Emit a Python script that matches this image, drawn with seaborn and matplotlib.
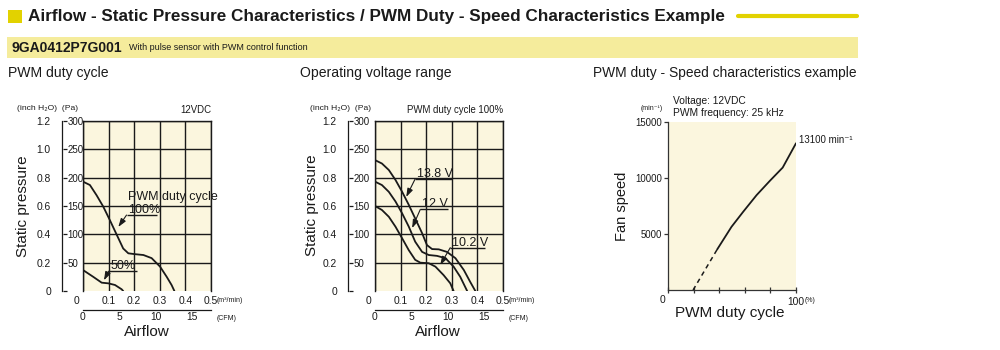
import numpy as np
import pandas as pd
import matplotlib
matplotlib.use("Agg")
import matplotlib.pyplot as plt
from matplotlib.patches import Rectangle
from matplotlib.lines import Line2D
import seaborn as sns

# ---------------- data ----------------
# Chart 1: PWM duty cycle (12 VDC) airflow [m3/min] vs static pressure [Pa]
duty100_flow = [0, 0.027, 0.053, 0.079, 0.105, 0.132, 0.157, 0.177, 0.203, 0.236, 0.268, 0.301, 0.327, 0.346, 0.357]
duty100_pres = [193, 187, 169, 149, 125, 99, 75, 66.5, 65, 63.5, 58, 43, 25, 10.6, 0]
duty50_flow = [0, 0.04, 0.073, 0.099, 0.125, 0.151, 0.157]
duty50_pres = [37, 25, 14.7, 13.5, 10.6, 3, 0]

# Chart 2: Operating voltage range (PWM duty cycle 100%)
v138_flow = [0, 0.027, 0.054, 0.08, 0.106, 0.132, 0.157, 0.184, 0.203, 0.223, 0.249, 0.281, 0.314, 0.347, 0.372, 0.392]
v138_pres = [231, 225, 213.5, 196, 175, 152, 128, 102, 81, 74, 73.5, 69, 58, 37, 16, 0]
v12_flow = [0, 0.027, 0.054, 0.08, 0.106, 0.132, 0.157, 0.184, 0.21, 0.242, 0.275, 0.307, 0.333, 0.36]
v12_pres = [193, 187, 175, 158, 137, 113.5, 87, 69, 63.5, 62, 58, 43, 25, 0]
v102_flow = [0, 0.027, 0.054, 0.08, 0.106, 0.132, 0.157, 0.177, 0.21, 0.236, 0.268, 0.294, 0.307]
v102_pres = [150, 143, 131, 113.5, 93, 72, 55, 50, 49, 43, 28, 13.6, 0]

# Chart 3: PWM duty - speed
speed_duty_dashed = [19.6, 38.4]
speed_rpm_dashed = [0, 3620]
speed_duty_solid = [38.4, 49.6, 58.7, 69.2, 79.6, 89.6, 100]
speed_rpm_solid = [3620, 5640, 6980, 8470, 9750, 10930, 13100]

pa_ticks = [0, 50, 100, 150, 200, 250, 300]
pa_labels = ["", "50", "100", "150", "200", "250", "300"]
inch_labels = ["0", "0.2", "0.4", "0.6", "0.8", "1.0", "1.2"]
flow_ticks = [0, 0.1, 0.2, 0.3, 0.4, 0.5]
flow_labels = ["", "0.1", "0.2", "0.3", "0.4", "0.5"]
cfm_ticks = [0, 5, 10, 15]
speed_ticks = [5000, 10000, 15000]
speed_labels = ["5000", "10000", "15000"]
duty_ticks = [0, 20, 40, 60, 80, 100]
duty_labels = ["", "", "", "", "", "100"]

# ---------------- style ----------------
sns.set_theme(style="white")
plt.rcParams["font.family"] = ["Liberation Sans", "DejaVu Sans"]
CREAM = "#FBF6DE"
YEL = "#E2D200"
BAND = "#F5EC9C"
INK = "#1a1a1a"
TICKFS = 7.4

W, H = 1000, 350
fig = plt.figure(figsize=(W / 100, H / 100), dpi=100)


def rect(x, y, w, h):
    return [x / W, 1 - (y + h) / H, w / W, h / H]


def fx(x):
    return x / W


def fy(y):
    return 1 - y / H


# ---------------- header ----------------
fig.patches.append(Rectangle((fx(8), fy(23)), 14 / W, 13 / H, transform=fig.transFigure,
                             facecolor=YEL, edgecolor="none"))
fig.text(fx(28), fy(17), "Airflow - Static Pressure Characteristics / PWM Duty - Speed Characteristics Example",
         fontsize=12.35, fontweight="bold", va="center", ha="left", color=INK)
fig.lines.append(Line2D([fx(738), fx(857)], [fy(16), fy(16)], transform=fig.transFigure,
                        color=YEL, lw=3))
fig.patches.append(Rectangle((fx(7), fy(58)), 851 / W, 21 / H, transform=fig.transFigure,
                             facecolor=BAND, edgecolor="none"))
fig.text(fx(12), fy(47.5), "9GA0412P7G001", fontsize=10, fontweight="bold", va="center", color=INK)
fig.text(fx(129), fy(48), "With pulse sensor with PWM control function", fontsize=6.5, va="center", color=INK)

fig.text(fx(8), fy(73), "PWM duty cycle", fontsize=10.1, va="center", color=INK)
fig.text(fx(300), fy(73), "Operating voltage range", fontsize=10.1, va="center", color=INK)
fig.text(fx(593), fy(73), "PWM duty - Speed characteristics example", fontsize=9.9, va="center", color=INK)


def pressure_chart(px, spine_x, unit_dx, corner_text, curves, notes):
    ax = fig.add_axes(rect(px, 121, 128, 170))
    ax.set_facecolor(CREAM)
    for (xs, ys) in curves:
        df = pd.DataFrame({"flow": xs, "pres": ys})
        sns.lineplot(data=df, x="flow", y="pres", ax=ax, color=INK, lw=1.3, sort=False, zorder=3)
    ax.set_xlim(0, 0.5)
    ax.set_ylim(0, 300)
    ax.set_xticks(flow_ticks)
    ax.set_xticklabels(flow_labels, fontsize=TICKFS, color=INK)
    ax.set_yticks(pa_ticks[1:])
    ax.set_yticklabels([])
    ax.tick_params(axis="both", length=0)
    ax.tick_params(axis="x", pad=3.5)
    ax.grid(True, color=INK, lw=1.0)
    ax.set_axisbelow(True)
    ax.set_xlabel("")
    ax.set_ylabel("")
    for s in ["top", "left", "right"]:
        ax.spines[s].set_visible(True)
        ax.spines[s].set_color(INK)
        ax.spines[s].set_linewidth(1.0)
    ax.spines["bottom"].set_visible(False)
    ax.annotate("0", xy=(0, 0), xycoords="data", xytext=(-7, -10), textcoords="offset pixels",
                ha="center", va="center", fontsize=TICKFS, color=INK)
    ax.annotate("(m³/min)", xy=(0.5, 0), xycoords="data", xytext=(6, -9), textcoords="offset pixels",
                ha="left", va="center", fontsize=5, color=INK)
    ax.annotate(corner_text, xy=(1, 1), xycoords="axes fraction", xytext=(0, 11),
                textcoords="offset pixels", ha="right", va="center", fontsize=6.9, color=INK)
    for (label, ux0, ux1, uy, ax_, ay_) in notes:
        ax.annotate(label, xy=(ux0, uy), xycoords="data", xytext=(2, 2), textcoords="offset pixels",
                    ha="left", va="baseline", fontsize=9, color=INK, zorder=5)
        ax.hlines(uy, ux0, ux1, colors=INK, lw=1.0, zorder=6, clip_on=False)
        ax.annotate("", xy=(ax_, ay_), xytext=(ux0, uy),
                    arrowprops=dict(arrowstyle="-|>,head_length=0.5,head_width=0.17", color=INK,
                                    lw=0.8, shrinkA=0, shrinkB=0, mutation_scale=10))

    # pressure axis (Pa ticks to the right of the spine)
    axp = fig.add_axes(rect(spine_x, 121, 1, 170))
    axp.set_facecolor("none")
    axp.set_ylim(0, 300)
    axp.set_xticks([])
    axp.set_yticks(pa_ticks)
    axp.set_yticklabels(pa_labels, fontsize=7.0, color=INK)
    axp.tick_params(axis="y", left=False, right=True, labelleft=False, labelright=True,
                    direction="out", length=3, width=0.9, color=INK, pad=0.3)
    for s in ["top", "bottom", "right"]:
        axp.spines[s].set_visible(False)
    axp.spines["left"].set_color(INK)
    axp.spines["left"].set_linewidth(0.9)
    # inch H2O labels to the left
    axi = fig.add_axes(rect(spine_x, 121, 1, 170))
    axi.set_facecolor("none")
    axi.set_ylim(0, 1.2)
    axi.set_xticks([])
    axi.set_yticks(np.linspace(0, 1.2, 7))
    axi.set_yticklabels(inch_labels, fontsize=TICKFS, color=INK)
    axi.tick_params(axis="y", length=0, pad=8)
    for s in axi.spines.values():
        s.set_visible(False)
    axp.annotate("(inch H₂O)  (Pa)", xy=(0, 1), xycoords="axes fraction", xytext=(unit_dx, 12),
                 textcoords="offset pixels", ha="left", va="center", fontsize=6.1, color=INK)

    # CFM axis
    axc = fig.add_axes(rect(px, 309, 128, 1))
    axc.set_facecolor("none")
    axc.set_xlim(0, 0.5 * 35.3147)
    axc.set_yticks([])
    axc.set_xticks(cfm_ticks)
    axc.set_xticklabels([str(t) for t in cfm_ticks], fontsize=TICKFS, color=INK)
    axc.tick_params(axis="x", direction="in", length=3, width=0.9, color=INK, pad=1.5)
    for s in ["top", "left", "right"]:
        axc.spines[s].set_visible(False)
    axc.spines["bottom"].set_color(INK)
    axc.spines["bottom"].set_linewidth(0.9)
    axc.annotate("(CFM)", xy=(1, 0), xycoords="axes fraction", xytext=(6, -8),
                 textcoords="offset pixels", ha="left", va="center", fontsize=5, color=INK)
    return ax


ax1 = pressure_chart(
    83, 62, -45, "12VDC",
    [(duty100_flow, duty100_pres), (duty50_flow, duty50_pres)],
    [("100%", 0.17, 0.29, 134, 0.138, 113),
     ("50%", 0.10, 0.21, 35, 0.082, 19)],
)
ax1.text(0.177, 166, "PWM duty cycle", ha="left", va="center", fontsize=9, color=INK, zorder=5)
ax2 = pressure_chart(
    375, 348, -38, "PWM duty cycle 100%",
    [(v138_flow, v138_pres), (v12_flow, v12_pres), (v102_flow, v102_pres)],
    [("13.8 V", 0.156, 0.30, 197, 0.122, 166),
     ("12 V", 0.177, 0.287, 144, 0.145, 111),
     ("10.2 V", 0.294, 0.43, 76.5, 0.255, 46)],
)

fig.text(fx(23), fy(206), "Static pressure", rotation=90, ha="center", va="center", fontsize=11, color=INK)
fig.text(fx(312), fy(205), "Static pressure", rotation=90, ha="center", va="center", fontsize=11, color=INK)
fig.text(fx(147), fy(332), "Airflow", ha="center", va="center", fontsize=11, color=INK)
fig.text(fx(438), fy(332), "Airflow", ha="center", va="center", fontsize=11, color=INK)

# ---------------- chart 3 ----------------
ax3 = fig.add_axes(rect(668, 122, 128, 168))
ax3.set_facecolor(CREAM)
sns.lineplot(x=speed_duty_dashed, y=speed_rpm_dashed, ax=ax3, color=INK, lw=1.1, linestyle=(0, (3, 2.5)))
sns.lineplot(x=speed_duty_solid, y=speed_rpm_solid, ax=ax3, color=INK, lw=1.3)
ax3.set_xlim(0, 100)
ax3.set_ylim(0, 15000)
ax3.set_xticks(duty_ticks)
ax3.set_xticklabels(duty_labels, fontsize=TICKFS, color=INK)
ax3.set_yticks(speed_ticks)
ax3.set_yticklabels(speed_labels, fontsize=6.9, color=INK)
ax3.tick_params(axis="y", direction="out", length=3, width=0.9, color="#333333", pad=1.5, left=True)
ax3.tick_params(axis="x", direction="inout", length=4, width=0.9, color="#333333", pad=3, bottom=True)
for s in ["top", "right"]:
    ax3.spines[s].set_visible(False)
for s in ["left", "bottom"]:
    ax3.spines[s].set_visible(True)
    ax3.spines[s].set_color("#333333")
    ax3.spines[s].set_linewidth(0.9)
ax3.set_xlabel("")
ax3.set_ylabel("")
ax3.annotate("0", xy=(0, 0), xycoords="data", xytext=(-6, -10), textcoords="offset pixels",
             ha="center", va="center", fontsize=TICKFS, color=INK)
ax3.annotate("(%)", xy=(100, 0), xycoords="data", xytext=(9, -10), textcoords="offset pixels",
             ha="left", va="center", fontsize=5, color=INK)
ax3.annotate("13100 min⁻¹", xy=(speed_duty_solid[-1], speed_rpm_solid[-1]), xycoords="data",
             xytext=(3, 3), textcoords="offset pixels", ha="left", va="center", fontsize=7,
             color=INK)
ax3.annotate("Voltage: 12VDC", xy=(0, 1), xycoords="axes fraction", xytext=(5, 21),
             textcoords="offset pixels", ha="left", va="center", fontsize=7.4, color=INK)
ax3.annotate("PWM frequency: 25 kHz", xy=(0, 1), xycoords="axes fraction", xytext=(5, 9),
             textcoords="offset pixels", ha="left", va="center", fontsize=7.4, color=INK)
ax3.annotate("(min⁻¹)", xy=(0, 1), xycoords="axes fraction", xytext=(-5, 14),
             textcoords="offset pixels", ha="right", va="center", fontsize=5, color=INK)

fig.text(fx(622), fy(206), "Fan speed", rotation=90, ha="center", va="center", fontsize=10.5, color=INK)
fig.text(fx(730), fy(313), "PWM duty cycle", ha="center", va="center", fontsize=11, color=INK)

fig.savefig("out.png", dpi=100, facecolor="white")
